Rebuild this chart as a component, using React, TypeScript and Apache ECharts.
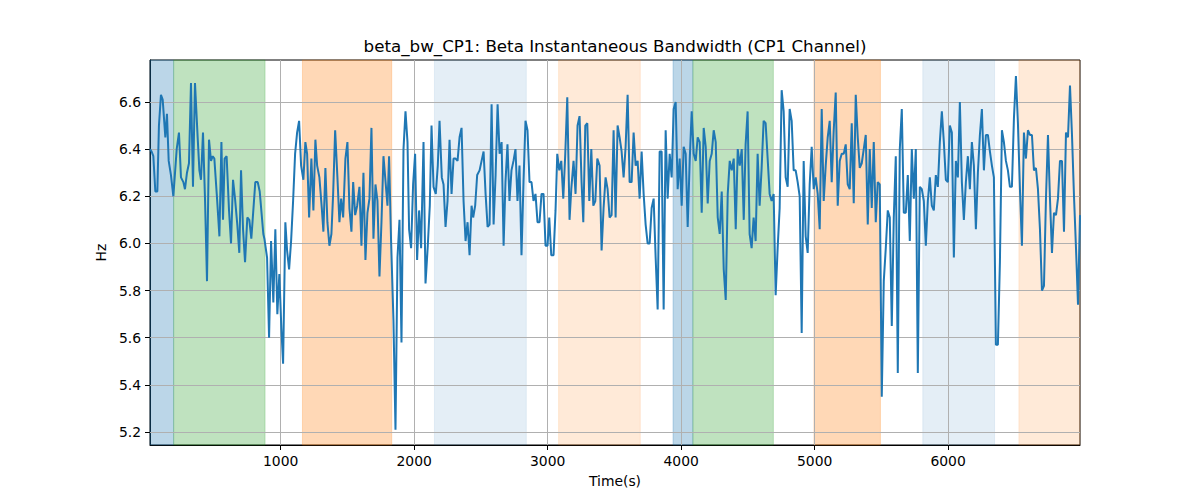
import { useEffect, useRef } from 'react'
import * as echarts from 'echarts'

const TITLE = 'beta_bw_CP1: Beta Instantaneous Bandwidth (CP1 Channel)'
const X_NAME = 'Time(s)'
const Y_NAME = 'Hz'

const timeTicks = [1000, 2000, 3000, 4000, 5000, 6000]
const hzTicks = [5.2, 5.4, 5.6, 5.8, 6.0, 6.2, 6.4, 6.6]
const timeRange = [21, 6988]
const hzRange = [5.145, 6.778]

// [time (s), bandwidth (Hz)]
const samples: [number, number][] = [
  [21, 6.40], [33, 6.39], [46, 6.37], [61, 6.22], [76, 6.22], [88, 6.50], [103, 6.63], [116, 6.61], [136, 6.45], [148, 6.55],
  [161, 6.35], [178, 6.29], [196, 6.20], [221, 6.40], [238, 6.47], [253, 6.28], [271, 6.26], [283, 6.23], [298, 6.30], [313, 6.34],
  [328, 6.68], [343, 6.24], [358, 6.68], [378, 6.45], [391, 6.31], [403, 6.27], [418, 6.47], [433, 6.19], [448, 5.84], [463, 6.44],
  [478, 6.35], [491, 6.37], [503, 6.36], [521, 6.21], [541, 6.03], [556, 6.43], [568, 6.10], [580, 6.36], [595, 6.37], [613, 6.14],
  [628, 6.00], [643, 6.27], [658, 6.19], [675, 6.08], [690, 5.96], [703, 6.31], [718, 6.06], [733, 5.92], [750, 6.11], [765, 6.10],
  [780, 6.02], [795, 6.14], [810, 6.26], [828, 6.26], [843, 6.22], [858, 6.12], [870, 6.04],
  [878, 6.02], [898, 5.94], [913, 5.60], [928, 6.01], [945, 5.75], [960, 6.06], [975, 5.70], [990, 5.87], [1005, 5.64], [1018, 5.49],
  [1035, 6.09], [1048, 5.97], [1063, 5.89], [1078, 6.01], [1093, 6.18], [1108, 6.38], [1123, 6.47], [1138, 6.52], [1153, 6.33], [1170, 6.27],
  [1185, 6.43], [1198, 6.38], [1213, 6.11], [1230, 6.36], [1245, 6.14], [1260, 6.44], [1273, 6.33], [1290, 6.28], [1308, 6.15], [1320, 6.05],
  [1335, 6.32], [1350, 6.09], [1365, 5.99], [1380, 6.04], [1393, 6.21], [1408, 6.48], [1425, 6.28], [1440, 6.09], [1453, 6.19], [1468, 6.11],
  [1485, 6.36], [1500, 6.43], [1515, 6.15], [1530, 6.05], [1543, 6.26], [1558, 6.12], [1573, 6.16], [1590, 6.24], [1605, 5.99], [1620, 6.30],
  [1635, 5.93], [1650, 6.13], [1665, 6.19], [1680, 6.49], [1695, 6.02], [1710, 6.25], [1725, 6.18], [1740, 5.86], [1755, 6.09], [1770, 6.37],
  [1790, 6.23], [1800, 6.16], [1812, 6.37], [1827, 6.01], [1845, 5.67], [1860, 5.21], [1875, 5.94], [1890, 6.10], [1905, 5.58], [1920, 6.40],
  [1935, 6.56], [1950, 6.43], [1962, 6.06], [1977, 5.98], [1992, 6.25], [2007, 6.38], [2022, 5.93], [2037, 6.14], [2052, 5.98], [2070, 6.43],
  [2085, 5.83], [2102, 5.99], [2117, 6.16], [2130, 6.50], [2145, 6.24], [2162, 6.21], [2177, 6.33], [2190, 6.52], [2207, 6.28], [2220, 6.25],
  [2235, 6.07], [2250, 6.18], [2265, 6.44], [2280, 6.21], [2295, 6.36], [2310, 6.36], [2325, 6.35], [2340, 6.45], [2355, 6.49], [2370, 6.18],
  [2385, 6.01], [2400, 6.09], [2415, 5.95], [2430, 6.16], [2442, 6.11], [2457, 6.16], [2472, 6.29], [2490, 6.31], [2505, 6.35], [2520, 6.39],
  [2535, 6.21], [2550, 6.07], [2565, 6.08], [2580, 6.59], [2595, 6.08], [2610, 6.29], [2625, 6.59], [2640, 6.38], [2655, 6.43], [2670, 5.99],
  [2684, 6.26], [2699, 6.42], [2714, 6.18], [2729, 6.31], [2744, 6.35], [2759, 6.40], [2774, 6.18], [2789, 6.33], [2804, 5.95], [2819, 6.26],
  [2834, 6.52], [2849, 6.48], [2864, 6.26], [2879, 6.26], [2894, 6.18], [2909, 6.21], [2924, 6.09], [2939, 6.09], [2954, 6.21], [2969, 6.21],
  [2984, 5.99], [2999, 5.99], [3012, 6.11], [3027, 5.95], [3044, 5.95], [3059, 6.14], [3072, 6.38], [3087, 6.31], [3102, 6.35], [3117, 6.19],
  [3132, 6.38], [3147, 6.62], [3164, 6.10], [3177, 6.23], [3194, 6.35], [3209, 6.21], [3224, 6.50], [3239, 6.54], [3254, 6.26], [3267, 6.09],
  [3282, 6.50], [3297, 6.51], [3312, 6.18], [3327, 6.40], [3342, 6.16], [3357, 6.18], [3372, 6.36], [3389, 6.33], [3404, 5.97], [3419, 6.15],
  [3434, 6.28], [3449, 6.23], [3464, 6.11], [3479, 6.12], [3494, 6.48], [3509, 6.11], [3524, 6.50], [3539, 6.45], [3554, 6.39], [3569, 6.28],
  [3584, 6.41], [3599, 6.63], [3614, 6.26], [3629, 6.26], [3644, 6.47], [3659, 6.33], [3674, 6.35], [3689, 6.19], [3704, 6.39], [3719, 6.21],
  [3734, 6.08], [3749, 6.00], [3764, 6.00], [3779, 6.15], [3794, 6.19], [3809, 5.94], [3824, 5.72], [3839, 6.39], [3854, 6.39], [3869, 5.72],
  [3884, 6.48], [3899, 6.19], [3914, 6.38], [3929, 6.28], [3944, 6.57], [3959, 6.60], [3974, 6.23], [3989, 6.36], [4004, 6.16], [4019, 6.41],
  [4034, 6.38], [4049, 6.07], [4064, 6.35], [4079, 6.56], [4094, 6.38], [4109, 6.35], [4124, 6.45], [4139, 6.43], [4154, 6.13], [4169, 6.49],
  [4184, 6.41], [4199, 6.17], [4214, 6.35], [4229, 6.38], [4244, 6.48], [4259, 6.43], [4274, 6.11], [4289, 6.04], [4304, 6.22], [4319, 5.89],
  [4334, 5.76], [4349, 6.21], [4364, 6.35], [4379, 6.31], [4394, 6.36], [4409, 6.06], [4424, 6.40], [4439, 6.33], [4454, 6.40], [4469, 6.10],
  [4483, 6.42], [4498, 6.56], [4513, 6.04], [4528, 5.98], [4543, 6.11], [4558, 6.01], [4573, 6.38], [4588, 6.16], [4603, 6.32], [4618, 6.52],
  [4633, 6.51], [4648, 6.36], [4663, 6.21], [4678, 6.18], [4693, 6.21], [4708, 5.78], [4723, 5.98], [4738, 6.15], [4753, 6.65], [4768, 6.56],
  [4783, 6.28], [4798, 6.24], [4813, 6.57], [4828, 6.52], [4843, 6.31], [4858, 6.31], [4873, 6.26], [4888, 6.20], [4903, 5.62], [4918, 6.35],
  [4933, 6.03], [4948, 5.96], [4963, 6.25], [4978, 6.41], [4993, 6.23], [5008, 6.28], [5023, 6.21], [5038, 6.06], [5053, 6.57], [5068, 6.18],
  [5083, 6.33], [5098, 6.45], [5113, 6.52], [5128, 6.26], [5143, 6.48], [5158, 6.64], [5173, 6.16], [5188, 6.35], [5203, 6.38], [5218, 6.38],
  [5233, 6.42], [5248, 6.25], [5263, 6.23], [5278, 6.51], [5293, 6.17], [5308, 6.63], [5323, 6.45], [5338, 6.32], [5353, 6.34], [5368, 6.40],
  [5383, 6.46], [5398, 6.08], [5413, 6.40], [5428, 6.15], [5443, 6.43], [5458, 6.09], [5473, 6.26], [5488, 6.25], [5503, 5.35], [5518, 5.84],
  [5533, 5.98], [5548, 6.14], [5563, 6.11], [5578, 5.65], [5593, 6.11], [5608, 6.37], [5623, 5.45], [5638, 6.40], [5653, 6.57], [5668, 6.13],
  [5683, 6.13], [5698, 6.29], [5713, 6.01], [5728, 6.40], [5743, 6.19], [5758, 6.40], [5773, 5.45], [5788, 6.24], [5803, 6.23], [5818, 6.18],
  [5833, 5.99], [5848, 6.18], [5863, 6.28], [5878, 6.16], [5893, 6.14], [5908, 6.29], [5923, 6.24], [5938, 6.43], [5953, 6.56], [5968, 6.43],
  [5983, 6.27], [5998, 6.26], [6013, 6.50], [6028, 6.47], [6043, 5.94], [6058, 6.35], [6073, 6.28], [6088, 6.60], [6103, 6.26], [6118, 6.10],
  [6133, 6.26], [6148, 6.37], [6163, 6.23], [6178, 6.43], [6193, 6.33],
  [6208, 6.06], [6223, 6.30], [6238, 6.46], [6253, 6.57], [6268, 6.31], [6283, 6.46], [6298, 6.46], [6313, 6.39], [6328, 6.33], [6343, 6.28],
  [6358, 5.57], [6373, 5.57], [6388, 5.92], [6403, 6.48], [6418, 6.43], [6433, 6.35], [6448, 6.31], [6463, 6.24], [6478, 6.24], [6493, 6.53],
  [6508, 6.71], [6523, 6.51], [6538, 6.23], [6553, 5.99], [6568, 6.47], [6583, 6.36], [6598, 6.48], [6613, 6.46], [6628, 6.46], [6643, 6.31],
  [6658, 6.32], [6673, 6.23], [6688, 6.06], [6703, 5.80], [6718, 5.82], [6733, 6.19], [6748, 6.46], [6763, 6.19], [6778, 5.96], [6793, 6.13],
  [6808, 6.12], [6823, 6.19], [6838, 6.35], [6853, 6.35], [6868, 6.05], [6883, 6.47], [6898, 6.45], [6913, 6.67], [6928, 6.46], [6943, 6.20],
  [6958, 5.98], [6973, 5.74], [6988, 6.12],
]

// shaded epochs along the time axis
const epochStarts = [21, 198, 1163, 2152, 3082, 3939, 4088, 4995, 5810, 6530]
const epochEnds = [198, 883, 1832, 2840, 3694, 4088, 4691, 5493, 6348, 6988]
const epochKinds = ['blue', 'green', 'orange', 'paleBlue', 'paleOrange', 'blue', 'green', 'orange', 'paleBlue', 'paleOrange']

const kindColors: Record<string, string> = {
  blue: 'rgba(31,119,180,0.3)',
  green: 'rgba(44,160,44,0.3)',
  orange: 'rgba(255,127,14,0.3)',
  paleBlue: 'rgba(31,119,180,0.12)',
  paleOrange: 'rgba(255,127,14,0.16)',
}

const FONT = 'DejaVu Sans'

export default function App() {
  const chartRef = useRef<HTMLDivElement>(null)

  useEffect(() => {
    if (!chartRef.current) return
    const chart = echarts.init(chartRef.current, null, { renderer: 'svg' })

    const areas = epochStarts.map((s, i) => {
      const c = kindColors[epochKinds[i]]
      return [
        { xAxis: s, itemStyle: { color: c, borderColor: c, borderWidth: 0.8 } },
        { xAxis: epochEnds[i] },
      ]
    })

    const gridLines = [
      ...hzTicks.map((v) => ({ yAxis: v })),
      ...timeTicks.map((v) => ({ xAxis: v })),
    ]

    const option: any = {
      animation: false,
      backgroundColor: '#fff',
      grid: {
        left: 150,
        right: 120,
        top: 60,
        bottom: 55,
        show: true,
        borderColor: '#000',
        borderWidth: 1,
        backgroundColor: 'transparent',
      },
      graphic: [
        {
          type: 'text',
          x: 615,
          y: 46,
          style: {
            text: TITLE,
            textAlign: 'center',
            textVerticalAlign: 'middle',
            font: `16.7px "${FONT}"`,
            fill: '#000',
          },
        },
      ],
      xAxis: {
        type: 'value',
        min: timeRange[0],
        max: timeRange[1],
        name: X_NAME,
        nameLocation: 'middle',
        nameGap: 29,
        nameTextStyle: { fontFamily: FONT, fontSize: 13.9, color: '#000' },
        axisLine: { show: true, lineStyle: { color: '#000', width: 1 } },
        axisTick: { show: true, length: 5, customValues: timeTicks, lineStyle: { color: '#000' } },
        axisLabel: {
          customValues: timeTicks,
          margin: 9,
          fontFamily: FONT,
          fontSize: 13.9,
          color: '#000',
          formatter: (v: number) => String(v),
        },
        splitLine: { show: false },
      },
      yAxis: {
        type: 'value',
        min: hzRange[0],
        max: hzRange[1],
        name: Y_NAME,
        nameLocation: 'middle',
        nameRotate: 90,
        nameGap: 35,
        nameTextStyle: { fontFamily: FONT, fontSize: 13.9, color: '#000' },
        axisLine: { show: true, lineStyle: { color: '#000', width: 1 } },
        axisTick: { show: true, length: 5, customValues: hzTicks, lineStyle: { color: '#000' } },
        axisLabel: {
          customValues: hzTicks,
          margin: 9,
          fontFamily: FONT,
          fontSize: 13.9,
          color: '#000',
          formatter: (v: number) => v.toFixed(1),
        },
        splitLine: { show: false },
      },
      series: [
        {
          type: 'line',
          data: [],
          silent: true,
          markArea: { silent: true, z: 1, data: areas },
          markLine: {
            silent: true,
            z: 1.5,
            symbol: ['none', 'none'],
            label: { show: false },
            lineStyle: { color: '#b0b0b0', width: 1, type: 'solid' },
            data: gridLines,
          },
        },
        {
          type: 'line',
          z: 3,
          data: samples,
          showSymbol: false,
          symbol: 'none',
          lineStyle: { color: '#1f77b4', width: 2 },
          itemStyle: { color: '#1f77b4' },
        },
      ],
    }

    chart.setOption(option)
    return () => chart.dispose()
  }, [])

  return (
    <div
      ref={chartRef}
      style={{ position: 'fixed', left: 0, top: 0, width: 1200, height: 500 }}
    />
  )
}
